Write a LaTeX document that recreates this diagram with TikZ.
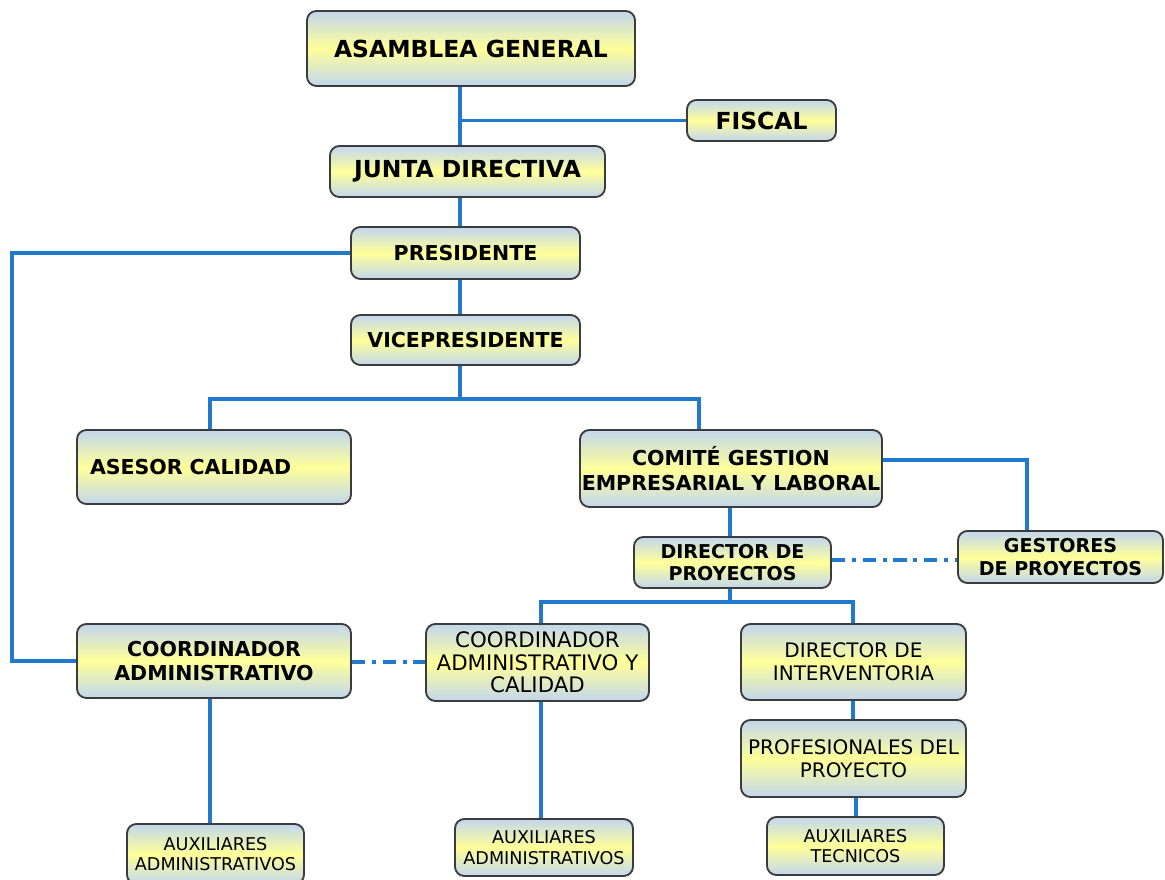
\documentclass[tikz,border=0pt]{standalone}
\usepackage{fontspec}
\setmainfont{DejaVu Sans}
\definecolor{boxblue}{HTML}{C2D6EE}
\definecolor{boxyellow}{HTML}{FFFF99}
\definecolor{boxedge}{HTML}{3C3C3C}
\definecolor{linkblue}{HTML}{2079CC}
% one rounded, shaded box given by its corners (x1,y1) (x2,y2) in pixels
\newcommand\orgbox[7]{%
  \node[box,#6,minimum width={(#4-#2)*0.75pt},minimum height={(#5-#3)*0.75pt}]
    (#1) at ({(#2+#4)/2},{(#3+#5)/2}) {#7};}
\begin{document}
\begin{tikzpicture}[x=0.75pt,y=-0.75pt,
  box/.style={draw=boxedge,line width=1.4pt,rounded corners=7pt,
    top color=boxblue,bottom color=boxblue,middle color=boxyellow,
    align=center,inner sep=0pt,text=black},
  big/.style={font=\fontsize{17.6pt}{21pt}\selectfont\bfseries},
  mid/.style={font=\fontsize{15.4pt}{18.3pt}\selectfont\bfseries},
  dp/.style={font=\fontsize{14.3pt}{16.8pt}\selectfont\bfseries},
  plain/.style={font=\fontsize{15pt}{17pt}\selectfont},
  small/.style={font=\fontsize{13.2pt}{15.5pt}\selectfont},
  link/.style={draw=linkblue,line width=2.6pt},
  dashlink/.style={link,dash pattern=on 10pt off 5pt on 3pt off 5pt}]
\useasboundingbox (0,0) rectangle (1165,880);
\clip (0,0) rectangle (1165,880);

% boxes
\orgbox{ag}{307}{11}{635}{86}{big}{ASAMBLEA GENERAL}
\orgbox{fiscal}{687}{100}{836}{141}{big}{FISCAL}
\orgbox{jd}{330}{146}{605}{197}{big}{JUNTA DIRECTIVA}
\orgbox{pres}{351}{227}{580}{279}{mid}{PRESIDENTE}
\orgbox{vice}{351}{315}{580}{365}{mid}{VICEPRESIDENTE}
\orgbox{asesor}{77}{430}{351}{504}{mid,align=left,text width=248*0.75pt,inner xsep=13*0.75pt}{ASESOR CALIDAD}
\orgbox{comite}{580}{430}{882}{507}{mid}{COMITÉ GESTION\\EMPRESARIAL Y LABORAL}
\orgbox{dirp}{634}{537}{831}{588}{dp}{DIRECTOR DE\\PROYECTOS}
\orgbox{gest}{958}{531}{1163}{583}{dp}{GESTORES\\DE PROYECTOS}
\orgbox{coordadm}{77}{624}{351}{698}{mid}{COORDINADOR\\ADMINISTRATIVO}
\orgbox{coordcal}{426}{624}{649}{701}{plain,font=\fontsize{16pt}{17pt}\selectfont}{COORDINADOR\\ADMINISTRATIVO Y\\CALIDAD}
\orgbox{dirint}{741}{624}{966}{700}{plain}{DIRECTOR DE\\INTERVENTORIA}
\orgbox{prof}{741}{720}{966}{797}{plain}{PROFESIONALES DEL\\PROYECTO}
\orgbox{auxa}{127}{824}{304}{884}{small}{AUXILIARES\\ADMINISTRATIVOS}
\orgbox{auxb}{455}{819}{633}{876}{small}{AUXILIARES\\ADMINISTRATIVOS}
\orgbox{auxt}{767}{817}{944}{875}{small}{AUXILIARES\\TECNICOS}

% guide positions for the connectors
\coordinate (spine) at (460,0);
\coordinate (rail) at (12,0);
\coordinate (busA) at (460,399);
\coordinate (ax) at (210,0);
\coordinate (cx) at (699,0);
\coordinate (gy) at (0,460);
\coordinate (gx) at (1027,0);
\coordinate (dx) at (730,0);
\coordinate (busB) at (730,602);
\coordinate (bx) at (541,0);
\coordinate (ix) at (853,0);
\coordinate (tx) at (856,0);

% solid links
\draw[link] (ag.south -| spine) -- (jd.north -| spine);
\draw[link] (fiscal.west) -- (fiscal.west -| spine);
\draw[link] (jd.south -| spine) -- (pres.north -| spine);
\draw[link] (pres.west) -| (rail |- coordadm.west) -- (coordadm.west);
\draw[link] (pres.south -| spine) -- (vice.north -| spine);
\draw[link] (vice.south -| spine) -- (busA);
\draw[link] (asesor.north -| ax) -- (ax |- busA) -- (cx |- busA) -- (comite.north -| cx);
\draw[link] (comite.east |- gy) -| (gest.north -| gx);
\draw[link] (comite.south -| dx) -- (dirp.north -| dx);
\draw[link] (dirp.south -| dx) -- (busB);
\draw[link] (coordcal.north -| bx) -- (bx |- busB) -- (ix |- busB) -- (dirint.north -| ix);
\draw[link] (coordadm.south -| ax) -- (auxa.north -| ax);
\draw[link] (coordcal.south -| bx) -- (auxb.north -| bx);
\draw[link] (dirint.south -| ix) -- (prof.north -| ix);
\draw[link] (prof.south -| tx) -- (auxt.north -| tx);

% dash-dot links
\draw[dashlink] (dirp.east |- 0,560) -- (gest.west |- 0,560);
\draw[dashlink] (coordadm.east |- 0,662) -- (coordcal.west |- 0,662);
\end{tikzpicture}
\end{document}
